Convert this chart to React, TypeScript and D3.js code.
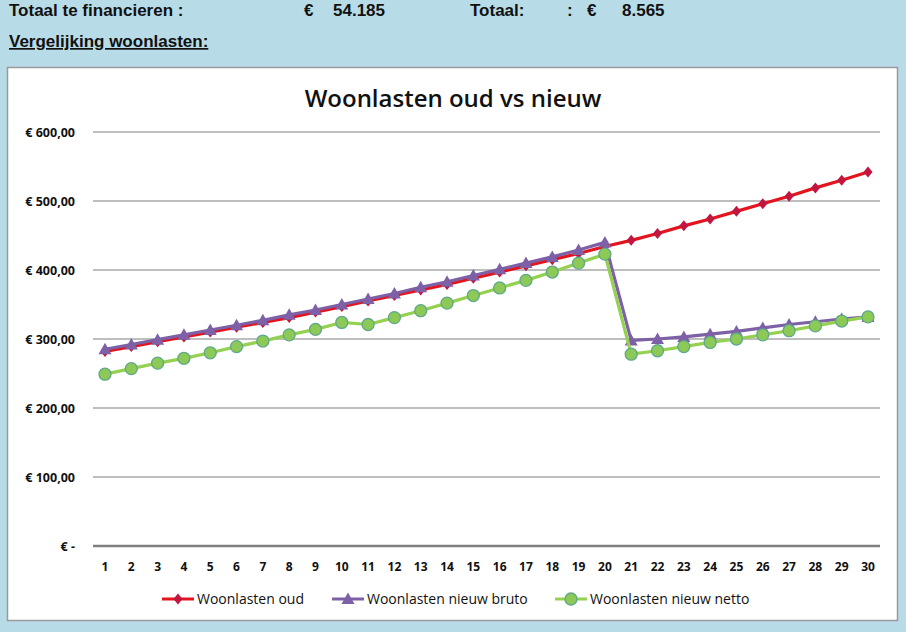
import * as d3 from 'd3';

const years = [1, 2, 3, 4, 5, 6, 7, 8, 9, 10, 11, 12, 13, 14, 15, 16, 17, 18, 19, 20, 21, 22, 23, 24, 25, 26, 27, 28, 29, 30];
const oud = [282, 289, 296, 303, 310, 317, 324, 331, 339, 347, 355, 363, 371, 379, 388, 397, 406, 415, 424, 434, 443, 453, 464, 474, 485, 496, 507, 519, 530, 542];
const bruto = [285, 292, 299, 306, 313, 320, 327, 335, 342, 350, 358, 366, 375, 383, 392, 401, 410, 419, 429, 440, 298, 300, 303, 307, 311, 316, 321, 325, 329, 332];
const netto = [249, 257, 265, 272, 280, 289, 297, 306, 314, 324, 321, 331, 341, 352, 363, 374, 385, 397, 410, 423, 278, 283, 289, 295, 300, 306, 312, 319, 326, 332];
const yTicks = [0, 100, 200, 300, 400, 500, 600];
const yLabels = ['€ -', '€ 100,00', '€ 200,00', '€ 300,00', '€ 400,00', '€ 500,00', '€ 600,00'];
const seriesNames = ['Woonlasten oud', 'Woonlasten nieuw bruto', 'Woonlasten nieuw netto'];

const W = 906;
const H = 632;
const font = '"Open Sans", "Liberation Sans", Arial, sans-serif';

const colors = {
  oudLine: '#e3141e',
  oudMark: '#c01640',
  brutoLine: '#7d60a6',
  brutoMark: '#7d60a6',
  nettoLine: '#95d150',
  nettoFill: '#8cc956',
  nettoStroke: '#5fa88a',
};

function Marker({ kind, x, y }: { kind: string; x: number; y: number }) {
  if (kind === 'diamond') {
    return <path d={`M${x},${y - 5.5}L${x + 4.5},${y}L${x},${y + 5.5}L${x - 4.5},${y}Z`} fill={colors.oudMark} />;
  }
  if (kind === 'triangle') {
    return <path d={`M${x},${y - 6.5}L${x + 6.5},${y + 5}L${x - 6.5},${y + 5}Z`} fill={colors.brutoMark} />;
  }
  return <circle cx={x} cy={y} r={6} fill={colors.nettoFill} stroke={colors.nettoStroke} strokeWidth={1.3} />;
}

export default function App() {
  const x = d3.scalePoint<number>().domain(years).range([105, 868]);
  const y = d3.scaleLinear().domain([0, 600]).range([546, 132]);
  const line = d3
    .line<number>()
    .x((_, i) => x(years[i]) as number)
    .y((d) => y(d));

  const series = [
    { name: seriesNames[0], values: oud, stroke: colors.oudLine, kind: 'diamond' },
    { name: seriesNames[1], values: bruto, stroke: colors.brutoLine, kind: 'triangle' },
    { name: seriesNames[2], values: netto, stroke: colors.nettoLine, kind: 'circle' },
  ];

  const legendX = [162, 332, 555];

  return (
    <svg
      width={W}
      height={H}
      style={{ position: 'absolute', left: 0, top: 0, display: 'block' }}
      fontFamily={font}
    >
      <rect x={0} y={0} width={W} height={H} fill="#b8dce7" />

      {/* header rows of the sheet */}
      <g fontFamily='"Liberation Sans", Arial, sans-serif' fontWeight={700} fontSize={17} fill="#111">
        <text x={9} y={16}>Totaal te financieren :</text>
        <text x={304} y={16}>€</text>
        <text x={333} y={16}>54.185</text>
        <text x={470} y={16}>Totaal:</text>
        <text x={567} y={16}>:</text>
        <text x={587} y={16}>€</text>
        <text x={622} y={16}>8.565</text>
        <text x={9} y={47} textDecoration="underline">Vergelijking woonlasten:</text>
      </g>

      {/* chart frame */}
      <rect x={7.5} y={67.5} width={890} height={553} fill="#fff" stroke="#9a9a9a" strokeWidth={1.5} />

      <text x={453} y={107} textAnchor="middle" fontSize={24} fontWeight={600} fill="#111">
        Woonlasten oud vs nieuw
      </text>

      {/* gridlines */}
      {yTicks.map((t) => (
        <line
          key={t}
          x1={93}
          x2={880}
          y1={y(t)}
          y2={y(t)}
          stroke={t === 0 ? '#7f7f7f' : '#a8a8a8'}
          strokeWidth={t === 0 ? 2.5 : 1.5}
        />
      ))}

      {/* y labels */}
      {yTicks.map((t, i) => (
        <text key={t} x={75} y={y(t) + 4.5} textAnchor="end" fontSize={12.5} fontWeight={700} fill="#111">
          {yLabels[i]}
        </text>
      ))}

      {/* x labels */}
      {years.map((yr) => (
        <text key={yr} x={x(yr)} y={571} textAnchor="middle" fontSize={12} fontWeight={700} fill="#111">
          {yr}
        </text>
      ))}

      {/* series */}
      {series.map((s) => (
        <g key={s.name}>
          <path d={line(s.values) ?? ''} fill="none" stroke={s.stroke} strokeWidth={3.2} strokeLinejoin="round" />
          {s.values.map((v, i) => (
            <Marker key={i} kind={s.kind} x={x(years[i]) as number} y={y(v)} />
          ))}
        </g>
      ))}

      {/* legend */}
      {series.map((s, i) => (
        <g key={s.name}>
          <line x1={legendX[i]} x2={legendX[i] + 32} y1={599} y2={599} stroke={s.stroke} strokeWidth={3} />
          <Marker kind={s.kind} x={legendX[i] + 16} y={599} />
          <text x={legendX[i] + 35} y={604} fontSize={14} fill="#111">
            {s.name}
          </text>
        </g>
      ))}
    </svg>
  );
}
